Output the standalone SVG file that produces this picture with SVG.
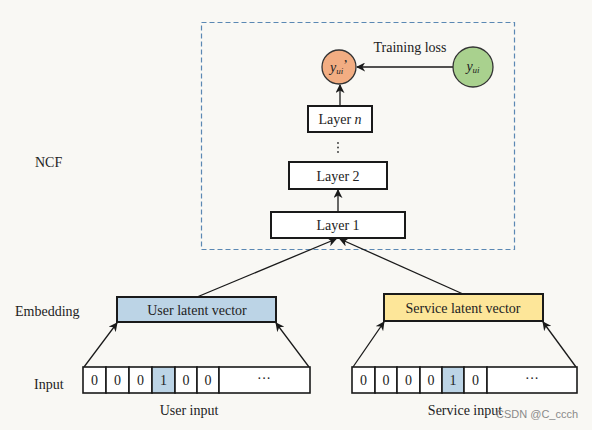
<svg xmlns="http://www.w3.org/2000/svg" width="592" height="430" viewBox="0 0 592 430">
<defs>
<marker id="ah" viewBox="0 0 10 10" refX="9" refY="5" markerWidth="9" markerHeight="9" markerUnits="userSpaceOnUse" orient="auto">
<path d="M0,0 L10,5 L0,10 L3,5 z" fill="#1a1a1a"/>
</marker>
<style>
text{font-family:"Liberation Serif","Times New Roman",serif;fill:#222;font-size:14px}
.box{fill:#ffffff;stroke:#1a1a1a;stroke-width:2}
.cell{fill:#ffffff;stroke:#1a1a1a;stroke-width:1.6}
.hl{fill:#bcd4e6}
.ln{stroke:#1a1a1a;stroke-width:1.3;fill:none;marker-end:url(#ah)}
.c{text-anchor:middle}
</style>
</defs>
<rect width="592" height="430" fill="#f9f8f4"/>
<rect x="201.5" y="22.5" width="313" height="227" fill="none" stroke="#5b88b3" stroke-width="1.2" stroke-dasharray="5,3"/>
<text x="35" y="167">NCF</text>
<text x="15" y="316">Embedding</text>
<text x="34" y="389">Input</text>
<g id="connectors">
<line class="ln" x1="453" y1="67" x2="357" y2="67"/>
<line class="ln" x1="340" y1="106" x2="340" y2="85"/>
<line class="ln" x1="338" y1="212" x2="338" y2="190"/>
<line class="ln" x1="197" y1="297" x2="336" y2="239"/>
<line class="ln" x1="463" y1="294" x2="340" y2="239"/>
<line class="ln" x1="84" y1="367" x2="117" y2="323"/>
<line class="ln" x1="309" y1="367" x2="276" y2="323"/>
<line class="ln" x1="353" y1="367" x2="384" y2="322"/>
<line class="ln" x1="576" y1="367" x2="543" y2="322"/>
</g>
<text class="c" x="410" y="52">Training loss</text>
<g id="y_pred">
<circle cx="339" cy="67" r="17" fill="#f2ad82" stroke="#333" stroke-width="1.3"/>
<text x="339" y="72" class="c" font-size="14"><tspan font-style="italic">y</tspan><tspan font-style="italic" font-size="9" dy="2">ui</tspan><tspan dy="-4">’</tspan></text>
</g>
<g id="y_true">
<circle cx="473" cy="67" r="20" fill="#a9d18e" stroke="#333" stroke-width="1.3"/>
<text x="473" y="71" class="c" font-size="14"><tspan font-style="italic">y</tspan><tspan font-style="italic" font-size="9" dy="2">ui</tspan></text>
</g>
<g id="layer_n">
<rect class="box" x="308" y="106" width="64" height="26"/>
<text class="c" x="340" y="124">Layer <tspan font-style="italic">n</tspan></text>
</g>
<g id="dots">
<circle cx="338" cy="143" r="0.9" fill="#333"/>
<circle cx="338" cy="147.5" r="0.9" fill="#333"/>
<circle cx="338" cy="152" r="0.9" fill="#333"/>
</g>
<g id="layer_2">
<rect class="box" x="289" y="162" width="98" height="27"/>
<text class="c" x="338" y="181">Layer 2</text>
</g>
<g id="layer_1">
<rect class="box" x="271" y="212" width="134" height="26"/>
<text class="c" x="338" y="230">Layer 1</text>
</g>
<g id="user_latent">
<rect class="box" x="117" y="297" width="159" height="25" style="fill:#bcd4e6"/>
<text class="c" x="197" y="315">User latent vector</text>
</g>
<g id="service_latent">
<rect class="box" x="384" y="294" width="159" height="27" style="fill:#fde699"/>
<text class="c" x="463" y="313">Service latent vector</text>
</g>
<g id="user_input">
<rect class="cell" x="83" y="367" width="23" height="26"/>
<rect class="cell" x="106" y="367" width="23" height="26"/>
<rect class="cell" x="129" y="367" width="23" height="26"/>
<rect class="cell hl" x="152" y="367" width="23" height="26"/>
<rect class="cell" x="175" y="367" width="22" height="26"/>
<rect class="cell" x="197" y="367" width="22" height="26"/>
<rect class="cell" x="219" y="367" width="91" height="26"/>
<text class="c" x="94.5" y="385">0</text>
<text class="c" x="117.5" y="385">0</text>
<text class="c" x="140.5" y="385">0</text>
<text class="c" x="163.5" y="385">1</text>
<text class="c" x="186" y="385">0</text>
<text class="c" x="208" y="385">0</text>
<text class="c" x="264" y="383" font-size="11">···</text>
<text class="c" x="189" y="415">User input</text>
</g>
<g id="service_input">
<rect class="cell" x="352" y="367" width="23" height="26"/>
<rect class="cell" x="375" y="367" width="22" height="26"/>
<rect class="cell" x="397" y="367" width="23" height="26"/>
<rect class="cell" x="420" y="367" width="22" height="26"/>
<rect class="cell hl" x="442" y="367" width="22" height="26"/>
<rect class="cell" x="464" y="367" width="23" height="26"/>
<rect class="cell" x="487" y="367" width="90" height="26"/>
<text class="c" x="363.5" y="385">0</text>
<text class="c" x="386" y="385">0</text>
<text class="c" x="408.5" y="385">0</text>
<text class="c" x="431" y="385">0</text>
<text class="c" x="453" y="385">1</text>
<text class="c" x="475.5" y="385">0</text>
<text class="c" x="532" y="383" font-size="11">···</text>
<text class="c" x="465" y="415">Service input</text>
</g>
<text x="496" y="418" style="font-family:'Liberation Sans',Arial,sans-serif;font-size:11px;fill:#8a8a8a">CSDN @C_ccch</text>
</svg>
